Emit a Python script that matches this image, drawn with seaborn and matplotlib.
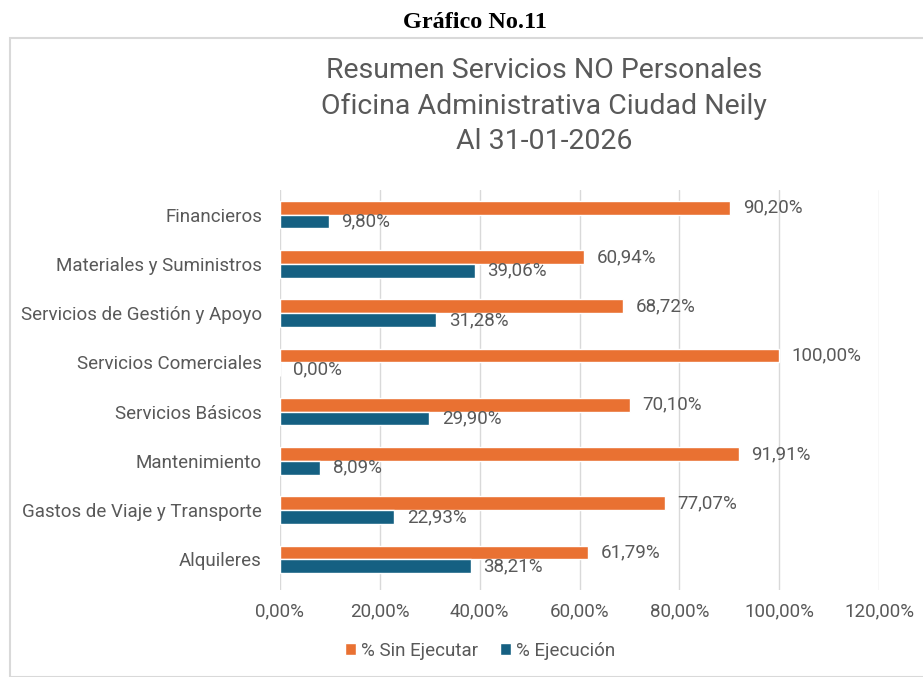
import pandas as pd
import matplotlib.pyplot as plt
import seaborn as sns
from matplotlib.patches import Rectangle
from matplotlib.ticker import FuncFormatter

categories = [
    "Financieros",
    "Materiales y Suministros",
    "Servicios de Gestión y Apoyo",
    "Servicios Comerciales",
    "Servicios Básicos",
    "Mantenimiento",
    "Gastos de Viaje y Transporte",
    "Alquileres",
]
sin_ejecutar = [90.20, 60.94, 68.72, 100.00, 70.10, 91.91, 77.07, 61.79]
ejecucion = [9.80, 39.06, 31.28, 0.00, 29.90, 8.09, 22.93, 38.21]
series_names = ["% Sin Ejecutar", "% Ejecución"]
colors = ["#E97132", "#156082"]
x_ticks = [0, 0.2, 0.4, 0.6, 0.8, 1.0, 1.2]

TEXT = "#595959"


def pct(v, decimals=2):
    return f"{v:.{decimals}f}".replace(".", ",") + "%"


df = pd.DataFrame({
    "categoria": categories * 2,
    "serie": [series_names[0]] * len(categories) + [series_names[1]] * len(categories),
    "valor": [v / 100 for v in sin_ejecutar + ejecucion],
})

sns.set_theme(style="white")
plt.rcParams["font.family"] = ["Roboto", "DejaVu Sans"]

fig = plt.figure(figsize=(9.23, 6.77), dpi=100)
ax = fig.add_axes([280 / 923, 1 - 590 / 677, 599 / 923, 400 / 677])

sns.barplot(
    data=df, y="categoria", x="valor", hue="serie",
    order=categories, hue_order=series_names, palette=colors,
    orient="h", width=0.56, saturation=1, ax=ax,
)

for container, vals in zip(ax.containers, [sin_ejecutar, ejecucion]):
    ax.bar_label(container, labels=[pct(v) for v in vals], padding=9,
                 fontsize=13.5, color=TEXT)

ax.set_xlim(0, 1.2)
ax.set_ylim(7.62, -0.5)
ax.set_xticks(x_ticks)
ax.xaxis.set_major_formatter(FuncFormatter(lambda v, _: pct(v * 100)))
ax.xaxis.grid(True, color="#d9d9d9", linewidth=1)
ax.set_axisbelow(True)
ax.tick_params(axis="both", length=0, labelsize=13.5, labelcolor=TEXT)
ax.tick_params(axis="x", pad=9)
ax.tick_params(axis="y", pad=13)
for s in ax.spines.values():
    s.set_visible(False)
ax.set_xlabel("")
ax.set_ylabel("")

handles, labels = ax.get_legend_handles_labels()
ax.legend(handles, labels, loc="center", bbox_to_anchor=(480 / 923, 1 - 651 / 677),
          bbox_transform=fig.transFigure, ncol=2, frameon=False,
          handlelength=0.6, handleheight=0.6, handletextpad=0.25,
          columnspacing=1.2, prop={"size": 13.5}, labelcolor=TEXT)

# outer chart frame
fig.patches.append(Rectangle((10 / 923, 0), 1.0, 1 - 38 / 677,
                             transform=fig.transFigure, fill=False,
                             edgecolor="#d9d9d9", linewidth=1.5))

fig.text(475 / 923, 1 - 23 / 677, "Gráfico No.11", ha="center", va="center",
         fontsize=17.5, fontweight="bold", family="Liberation Serif", color="black")
fig.text(544 / 923, 1 - 106 / 677,
         "Resumen Servicios NO Personales\nOficina Administrativa Ciudad Neily\nAl 31-01-2026",
         ha="center", va="center", fontsize=20.5, color=TEXT, linespacing=1.42)

fig.savefig("out.png", dpi=100)
